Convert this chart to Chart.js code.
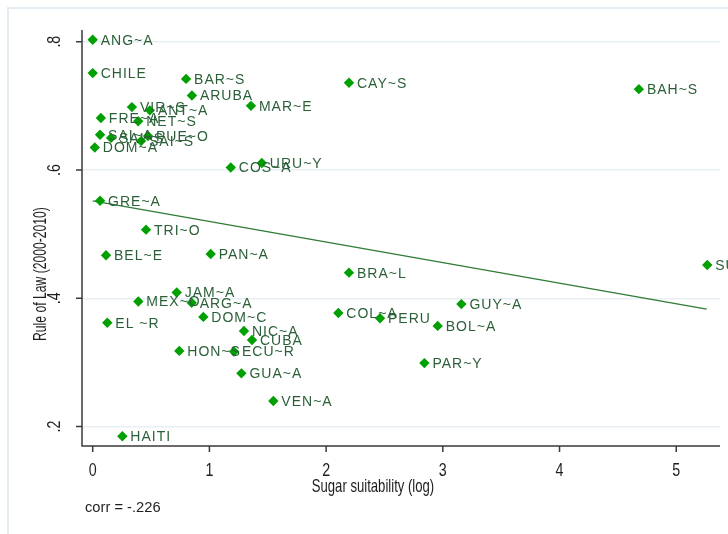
<!DOCTYPE html>
<html>
<head>
<meta charset="utf-8">
<script src="https://cdn.jsdelivr.net/npm/chart.js@4.4.1/dist/chart.umd.min.js"></script>
<style>
  html, body { margin: 0; padding: 0; background: #fff; }
  canvas { display: block; }
</style>
</head>
<body>
<canvas id="scatter" width="728" height="534"></canvas>
<script>
// Data
const countries = [
  'ANG~A', 'CHILE', 'BAR~S', 'ARUBA', 'CAY~S', 'BAH~S', 'MAR~E', 'VIR~S', 'ANT~A', 'FRE~A',
  'NET~S', 'SAI~A', 'SAI~S', 'PUE~O', 'SAI~S', 'DOM~A', 'COS~A', 'URU~Y', 'GRE~A', 'TRI~O',
  'BEL~E', 'PAN~A', 'BRA~L', 'SUR~E', 'JAM~A', 'MEX~O', 'ARG~A', 'EL ~R', 'DOM~C', 'NIC~A',
  'CUBA', 'HON~S', 'ECU~R', 'GUA~A', 'VEN~A', 'HAITI', 'COL~A', 'PERU', 'BOL~A', 'GUY~A',
  'PAR~Y',
];
const sugarLog = [
  0.0, 0.0, 0.80, 0.85, 2.196, 4.68, 1.356, 0.336, 0.49, 0.07,
  0.39, 0.063, 0.157, 0.474, 0.414, 0.018, 1.183, 1.449, 0.063, 0.457,
  0.114, 1.011, 2.196, 5.266, 0.72, 0.391, 0.848, 0.125, 0.948, 1.296,
  1.365, 0.742, 1.211, 1.274, 1.548, 0.254, 2.105, 2.462, 2.956, 3.159,
  2.842,
];
const ruleOfLaw = [
  0.803, 0.751, 0.742, 0.716, 0.736, 0.726, 0.70, 0.698, 0.693, 0.681,
  0.676, 0.655, 0.650, 0.653, 0.645, 0.635, 0.604, 0.611, 0.552, 0.507,
  0.467, 0.469, 0.440, 0.452, 0.409, 0.395, 0.393, 0.362, 0.371, 0.349,
  0.335, 0.318, 0.317, 0.283, 0.240, 0.185, 0.377, 0.369, 0.357, 0.391,
  0.299,
];
// fitted line end points
const fitX = [0.0, 5.261];
const fitY = [0.552, 0.383];

const xTicks = [0, 1, 2, 3, 4, 5];
const yTicks = [0.2, 0.4, 0.6, 0.8];
const yTickLabels = ['.2', '.4', '.6', '.8'];
const corrText = 'corr = -.226';

const markerColor = '#00a000';
const labelColor = '#2a5f38';
const lineColor = '#2f7a35';
const gridColor = '#e8eff3';
const axisColor = '#3a3a3a';
const fontName = '"Liberation Sans", Arial, sans-serif';

// squeezed text, like the stata export
const drawText = (ctx, text, x, y, size, sx, angle) => {
  ctx.save();
  ctx.translate(x, y);
  if (angle) ctx.rotate(angle);
  ctx.scale(sx, 1);
  ctx.font = size + 'px ' + fontName;
  ctx.fillText(text, 0, 0);
  ctx.restore();
};

const stataDecor = {
  id: 'stataDecor',
  beforeDraw: function (chart) {
    const ctx = chart.ctx;
    ctx.save();
    ctx.fillStyle = '#fff';
    ctx.fillRect(0, 0, chart.width, chart.height);
    // outer frame
    ctx.strokeStyle = '#e3ecf0';
    ctx.lineWidth = 2;
    ctx.beginPath();
    ctx.moveTo(8, chart.height);
    ctx.lineTo(8, 8);
    ctx.lineTo(chart.width, 8);
    ctx.stroke();
    ctx.restore();
  },
  afterDatasetsDraw: function (chart) {
    const ctx = chart.ctx;
    const area = chart.chartArea;
    const xs = chart.scales.x;
    const ys = chart.scales.y;

    // marker labels
    const meta = chart.getDatasetMeta(0);
    ctx.save();
    ctx.font = '14px ' + fontName;
    ctx.letterSpacing = '1px';
    ctx.fillStyle = labelColor;
    ctx.textBaseline = 'middle';
    ctx.textAlign = 'left';
    meta.data.forEach((pt, i) => {
      ctx.fillText(countries[i], pt.x + 8, pt.y + 1);
    });
    ctx.restore();

    // axes
    ctx.save();
    ctx.strokeStyle = axisColor;
    ctx.lineWidth = 1.5;
    ctx.beginPath();
    ctx.moveTo(area.left, area.top);
    ctx.lineTo(area.left, area.bottom);
    ctx.lineTo(area.right, area.bottom);
    xTicks.forEach((v) => {
      const px = xs.getPixelForValue(v);
      ctx.moveTo(px, area.bottom);
      ctx.lineTo(px, area.bottom + 6);
    });
    yTicks.forEach((v) => {
      const py = ys.getPixelForValue(v);
      ctx.moveTo(area.left, py);
      ctx.lineTo(area.left - 6, py);
    });
    ctx.stroke();

    ctx.fillStyle = '#1e1e1e';
    ctx.textAlign = 'center';
    ctx.textBaseline = 'middle';
    xTicks.forEach((v) => {
      drawText(ctx, String(v), xs.getPixelForValue(v), area.bottom + 25, 19, 0.75);
    });
    yTicks.forEach((v, i) => {
      drawText(ctx, yTickLabels[i], area.left - 27, ys.getPixelForValue(v), 19, 0.75, -Math.PI / 2);
    });
    drawText(ctx, 'Sugar suitability (log)', 373, area.bottom + 41, 19, 0.69);
    drawText(ctx, 'Rule of Law (2000-2010)', 41, 274, 19, 0.64, -Math.PI / 2);

    ctx.textAlign = 'left';
    drawText(ctx, corrText, 85, 508, 14, 1.05);
    ctx.restore();
  },
};

const points = countries.map((c, i) => ({ x: sugarLog[i], y: ruleOfLaw[i] }));
const fitLine = fitX.map((x, i) => ({ x: x, y: fitY[i] }));

new Chart(document.getElementById('scatter'), {
  type: 'scatter',
  data: {
    datasets: [
      {
        data: points,
        pointStyle: 'rectRot',
        pointRadius: 5.2,
        backgroundColor: markerColor,
        borderColor: markerColor,
        borderWidth: 0,
      },
      {
        type: 'line',
        data: fitLine,
        borderColor: lineColor,
        borderWidth: 1.3,
        pointRadius: 0,
        fill: false,
        showLine: true,
      },
    ],
  },
  options: {
    responsive: false,
    animation: false,
    devicePixelRatio: 1,
    layout: { padding: { top: 30, right: 8, left: 0, bottom: 0 } },
    plugins: { legend: { display: false }, tooltip: { enabled: false } },
    scales: {
      x: {
        type: 'linear',
        min: -0.0917,
        max: 5.375,
        grid: { display: false },
        border: { display: false },
        ticks: { display: false },
        afterFit: (s) => { s.height = 88; },
      },
      y: {
        type: 'linear',
        min: 0.1698,
        max: 0.8182,
        grid: { color: gridColor, lineWidth: 1.5, drawTicks: false },
        border: { display: false },
        ticks: { display: false },
        afterBuildTicks: (s) => { s.ticks = yTicks.map((v) => ({ value: v })); },
        afterFit: (s) => { s.width = 82; },
      },
    },
  },
  plugins: [stataDecor],
});
</script>
</body>
</html>
